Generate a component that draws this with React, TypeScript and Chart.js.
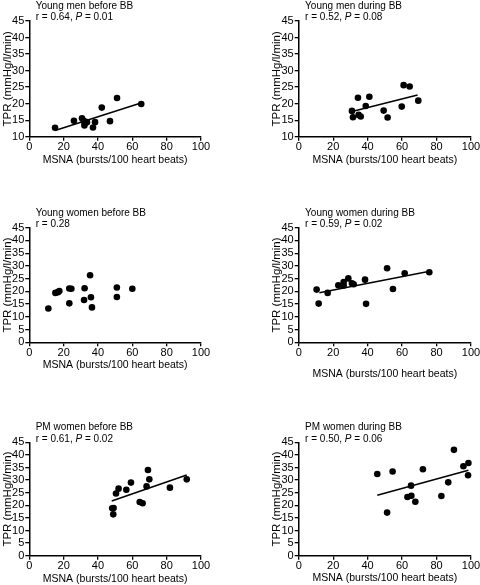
import React, { useEffect, useRef } from "react";
import { Chart, registerables } from "chart.js";
Chart.register(...registerables);

const FONT = '"Liberation Sans", Arial, Helvetica, sans-serif';

const xTickVals = [0, 20, 40, 60, 80, 100];
const xAxisTitle = "MSNA (bursts/100 heart beats)";
const yAxisTitle = "TPR (mmHg/l/min)";

// Young men before BB
const ymBeforeX = [15, 26, 30.7, 31.7, 32.3, 32.1, 33.6, 38.3, 37.1, 42.2, 47.0, 51.1, 65.2];
const ymBeforeY = [12.7, 14.8, 15.6, 14.8, 14.1, 13.4, 14.4, 14.4, 12.8, 18.8, 14.7, 21.7, 19.9];
const ymBeforeFitX = [15, 65];
const ymBeforeFitY = [11.9, 20.2];

// Young men during BB
const ymDuringX = [30.9, 31.5, 34.4, 34.8, 36.0, 38.9, 41.0, 49.3, 51.6, 59.8, 60.9, 64.4, 69.4];
const ymDuringY = [17.8, 15.9, 21.8, 16.6, 16.1, 19.3, 22.1, 17.9, 15.8, 19.1, 25.6, 25.2, 20.9];
const ymDuringFitX = [31, 69];
const ymDuringFitY = [17.6, 22.6];

// Young women before BB
const ywBeforeX = [11.1, 15.2, 16.7, 17.5, 23.3, 24.5, 23.3, 32.2, 31.9, 35.4, 35.9, 36.5, 51, 51, 60];
const ywBeforeY = [13.3, 19.4, 19.7, 20.1, 21.1, 21.0, 15.3, 21.2, 16.6, 26.3, 17.7, 13.7, 21.5, 17.8, 21.0];

// Young women during BB
const ywDuringX = [10.4, 11.6, 16.8, 23.0, 26.1, 26.1, 28.8, 30.9, 31.9, 38.5, 39.1, 51.3, 54.7, 61.5, 75.8];
const ywDuringY = [20.7, 15.2, 19.4, 22.4, 23.7, 22.3, 25.1, 23.2, 22.8, 24.6, 15.1, 29.1, 20.9, 27.1, 27.5];
const ywDuringFitX = [12, 76];
const ywDuringFitY = [19.5, 27.9];

// PM women before BB
const pmBeforeX = [48.3, 49.1, 48.9, 50.5, 52.0, 56.5, 59.2, 64.3, 66.0, 68.3, 69.1, 69.9, 81.9, 91.7];
const pmBeforeY = [18.8, 18.9, 16.4, 24.7, 26.6, 26.2, 29.0, 21.3, 20.8, 27.5, 34.0, 30.3, 27.0, 30.3];
const pmBeforeFitX = [48, 91.7];
const pmBeforeFitY = [21.7, 32.0];

// PM women during BB
const pmDuringX = [45.6, 51.3, 54.5, 63.1, 65.4, 65.2, 67.7, 72.1, 82.8, 86.8, 90.1, 95.6, 98.5, 98.3];
const pmDuringY = [32.4, 17.1, 33.4, 23.3, 23.8, 27.8, 21.4, 34.3, 23.7, 29.1, 42.0, 35.5, 36.8, 31.9];
const pmDuringFitX = [45.6, 98.5];
const pmDuringFitY = [24.0, 33.9];

type Seg = { text: string; italic?: boolean };

type PanelCfg = {
  cx: number; cy: number; cw: number; ch: number;
  L: number; T: number; R: number; B: number;
  yMin: number;
  xs: number[]; ys: number[];
  fitX?: number[]; fitY?: number[];
  title: string;
  stat: Seg[];
  xTitleOffset: number;
};

const panels: PanelCfg[] = [
  { cx: 0, cy: 0, cw: 240, ch: 190, L: 29.3, T: 21, R: 201, B: 136.7, yMin: 10,
    xs: ymBeforeX, ys: ymBeforeY, fitX: ymBeforeFitX, fitY: ymBeforeFitY,
    title: "Young men before BB",
    stat: [{ text: "r = 0.64, " }, { text: "P", italic: true }, { text: " = 0.01" }], xTitleOffset: 23.3 },
  { cx: 240, cy: 0, cw: 240, ch: 190, L: 298.7, T: 21, R: 471, B: 136.7, yMin: 10,
    xs: ymDuringX, ys: ymDuringY, fitX: ymDuringFitX, fitY: ymDuringFitY,
    title: "Young men during BB",
    stat: [{ text: "r = 0.52, " }, { text: "P", italic: true }, { text: " = 0.08" }], xTitleOffset: 23.3 },
  { cx: 0, cy: 190, cw: 240, ch: 200, L: 29.3, T: 227.7, R: 201, B: 342.3, yMin: 0,
    xs: ywBeforeX, ys: ywBeforeY,
    title: "Young women before BB",
    stat: [{ text: "r = 0.28" }], xTitleOffset: 22.7 },
  { cx: 240, cy: 190, cw: 240, ch: 200, L: 298.7, T: 227.7, R: 471, B: 342.3, yMin: 0,
    xs: ywDuringX, ys: ywDuringY, fitX: ywDuringFitX, fitY: ywDuringFitY,
    title: "Young women during BB",
    stat: [{ text: "r = 0.59, " }, { text: "P", italic: true }, { text: " = 0.02" }], xTitleOffset: 32 },
  { cx: 0, cy: 390, cw: 240, ch: 195, L: 29.3, T: 442.3, R: 201, B: 555.7, yMin: 0,
    xs: pmBeforeX, ys: pmBeforeY, fitX: pmBeforeFitX, fitY: pmBeforeFitY,
    title: "PM women before BB",
    stat: [{ text: "r = 0.61, " }, { text: "P", italic: true }, { text: " = 0.02" }], xTitleOffset: 23 },
  { cx: 240, cy: 390, cw: 240, ch: 195, L: 298.7, T: 442.3, R: 471, B: 555.7, yMin: 0,
    xs: pmDuringX, ys: pmDuringY, fitX: pmDuringFitX, fitY: pmDuringFitY,
    title: "PM women during BB",
    stat: [{ text: "r = 0.50, " }, { text: "P", italic: true }, { text: " = 0.06" }], xTitleOffset: 22 },
];

function Panel({ cfg }: { cfg: PanelCfg }) {
  const ref = useRef<HTMLCanvasElement>(null);
  useEffect(() => {
    if (!ref.current) return;
    const Wy = 29;
    const lhX = 10.5 * 1.2;
    const lhY = 11.5 * 1.2;
    const Hx = cfg.xTitleOffset + lhX / 2;
    const padLeft = cfg.L - cfg.cx - Wy;
    const padTop = cfg.T - cfg.cy;
    const padRight = cfg.cx + cfg.cw - cfg.R;
    const padBottom = cfg.cy + cfg.ch - cfg.B - Hx;
    const yTitlePad = Math.max(0, Wy - 21.5 - lhY / 2);

    const headerPlugin = {
      id: "header",
      afterDraw(chart: any) {
        const ctx = chart.ctx as CanvasRenderingContext2D;
        const { left, top } = chart.chartArea;
        ctx.save();
        ctx.fillStyle = "#000";
        ctx.textBaseline = "alphabetic";
        ctx.textAlign = "left";
        const x0 = left + 6.4;
        ctx.font = `10px ${FONT}`;
        ctx.fillText(cfg.title, x0, top - 12);
        let x = x0;
        for (const s of cfg.stat) {
          ctx.font = `${s.italic ? "italic " : ""}10px ${FONT}`;
          ctx.fillText(s.text, x, top - 0.7);
          x += ctx.measureText(s.text).width;
        }
        ctx.restore();
      },
    };

    const datasets: any[] = [
      {
        data: cfg.xs.map((x, i) => ({ x, y: cfg.ys[i] })),
        pointRadius: 3.3,
        pointBackgroundColor: "#000",
        pointBorderWidth: 0,
        showLine: false,
        clip: false,
      },
    ];
    if (cfg.fitX && cfg.fitY) {
      datasets.push({
        data: cfg.fitX.map((x, i) => ({ x, y: cfg.fitY![i] })),
        showLine: true,
        borderColor: "#000",
        borderWidth: 1.5,
        pointRadius: 0,
        clip: false,
      });
    }

    const zeroPad = (s: any) => {
      s.paddingLeft = 0;
      s.paddingRight = 0;
      s.paddingTop = 0;
      s.paddingBottom = 0;
    };

    const chart = new Chart(ref.current, {
      type: "scatter",
      data: { datasets },
      options: {
        responsive: false,
        animation: false,
        events: [],
        layout: { padding: { left: padLeft, top: padTop, right: padRight, bottom: padBottom } },
        plugins: { legend: { display: false }, tooltip: { enabled: false } },
        scales: {
          x: {
            type: "linear",
            min: 0,
            max: 100,
            afterBuildTicks: (s: any) => {
              s.ticks = xTickVals.map((v) => ({ value: v }));
            },
            ticks: {
              font: { family: FONT, size: 11 },
              color: "#000",
              padding: 0,
              autoSkip: false,
              maxRotation: 0,
            },
            grid: { drawOnChartArea: false, drawTicks: true, tickLength: 4, color: "#000", lineWidth: 1.3 },
            border: { display: true, color: "#000", width: 1.5 },
            title: {
              display: true,
              text: xAxisTitle,
              font: { family: FONT, size: 10.5, lineHeight: 1.2 },
              color: "#000",
              padding: { top: 0, bottom: 0 },
            },
            afterFit: (s: any) => {
              s.height = Hx;
              zeroPad(s);
            },
          },
          y: {
            type: "linear",
            min: cfg.yMin,
            max: 45,
            ticks: {
              stepSize: 5,
              font: { family: FONT, size: 11 },
              color: "#000",
              padding: 1,
              autoSkip: false,
            },
            grid: { drawOnChartArea: false, drawTicks: true, tickLength: 4, color: "#000", lineWidth: 1.3 },
            border: { display: true, color: "#000", width: 1.5 },
            title: {
              display: true,
              text: yAxisTitle,
              font: { family: FONT, size: 11.5, lineHeight: 1.2 },
              color: "#000",
              padding: { top: yTitlePad, bottom: 0 },
            },
            afterFit: (s: any) => {
              s.width = Wy;
              zeroPad(s);
            },
          },
        },
      } as any,
      plugins: [headerPlugin],
    });
    return () => chart.destroy();
  }, [cfg]);

  return (
    <canvas
      ref={ref}
      width={cfg.cw}
      height={cfg.ch}
      style={{ position: "absolute", left: cfg.cx, top: cfg.cy, width: cfg.cw, height: cfg.ch, display: "block" }}
    />
  );
}

export default function App() {
  return (
    <div style={{ position: "fixed", left: 0, top: 0, width: 480, height: 585, background: "#fff" }}>
      {panels.map((p, i) => (
        <Panel key={i} cfg={p} />
      ))}
    </div>
  );
}
